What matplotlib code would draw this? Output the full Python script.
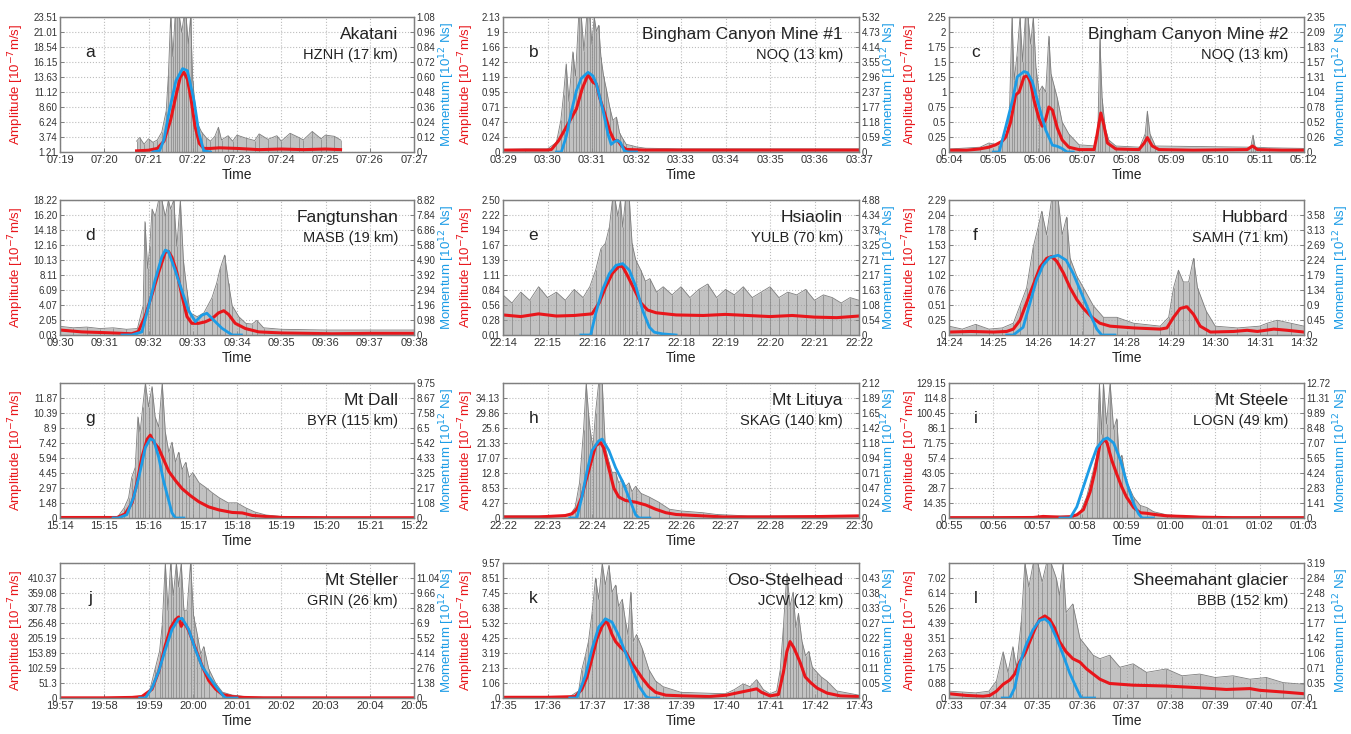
import matplotlib
matplotlib.use("Agg")
import matplotlib.pyplot as plt
import numpy as np
from datetime import datetime, timedelta

plt.rcParams['font.family'] = ['Liberation Sans', 'DejaVu Sans']

# ---------------- panel meta ----------------
letters = list("abcdefghijkl")
names = ["Akatani", "Bingham Canyon Mine #1", "Bingham Canyon Mine #2", "Fangtunshan",
         "Hsiaolin", "Hubbard", "Mt Dall", "Mt Lituya", "Mt Steele", "Mt Steller",
         "Oso-Steelhead", "Sheemahant glacier"]
stations = ["HZNH (17 km)", "NOQ (13 km)", "NOQ (13 km)", "MASB (19 km)", "YULB (70 km)",
            "SAMH (71 km)", "BYR (115 km)", "SKAG (140 km)", "LOGN (49 km)", "GRIN (26 km)",
            "JCW (12 km)", "BBB (152 km)"]
starts = ["07:19", "03:29", "05:04", "09:30", "22:14", "14:24", "15:14", "22:22",
          "00:55", "19:57", "17:35", "07:33"]

# left (amplitude) tick labels; right (momentum) tick labels
left_ticks = [
    ["1.21", "3.74", "6.24", "8.60", "11.12", "13.63", "16.15", "18.54", "21.01", "23.51"],
    ["0", "0.24", "0.47", "0.71", "0.95", "1.19", "1.42", "1.66", "1.9", "2.13"],
    ["0", "0.25", "0.5", "0.75", "1", "1.25", "1.5", "1.75", "2", "2.25"],
    ["0.03", "2.05", "4.07", "6.09", "8.11", "10.13", "12.16", "14.18", "16.20", "18.22"],
    ["0.01", "0.28", "0.56", "0.84", "1.11", "1.39", "1.67", "1.94", "2.22", "2.50"],
    ["0", "0.25", "0.51", "0.76", "1.02", "1.27", "1.53", "1.78", "2.04", "2.29"],
    ["0", "1.48", "2.97", "4.45", "5.94", "7.42", "8.9", "10.39", "11.87"],
    ["0", "4.27", "8.53", "12.8", "17.07", "21.33", "25.6", "29.86", "34.13"],
    ["0", "14.35", "28.7", "43.05", "57.4", "71.75", "86.1", "100.45", "114.8", "129.15"],
    ["0", "51.3", "102.59", "153.89", "205.19", "256.48", "307.78", "359.08", "410.37"],
    ["0", "1.06", "2.13", "3.19", "4.25", "5.32", "6.38", "7.45", "8.51", "9.57"],
    ["0", "0.88", "1.75", "2.63", "3.51", "4.39", "5.26", "6.14", "7.02"],
]
right_ticks = [
    ["0", "0.12", "0.24", "0.36", "0.48", "0.60", "0.72", "0.84", "0.96", "1.08"],
    ["0", "0.59", "1.18", "1.77", "2.37", "2.96", "3.55", "4.14", "4.73", "5.32"],
    ["0", "0.26", "0.52", "0.78", "1.04", "1.31", "1.57", "1.83", "2.09", "2.35"],
    ["0", "0.98", "1.96", "2.94", "3.92", "4.90", "5.88", "6.86", "7.84", "8.82"],
    ["0", "0.54", "1.08", "1.63", "2.17", "2.71", "3.25", "3.79", "4.34", "4.88"],
    ["0", "0.45", "0.9", "1.34", "1.79", "2.24", "2.69", "3.13", "3.58"],
    ["0", "1.08", "2.17", "3.25", "4.33", "5.42", "6.5", "7.58", "8.67", "9.75"],
    ["0", "0.24", "0.47", "0.71", "0.94", "1.18", "1.42", "1.65", "1.89", "2.12"],
    ["0", "1.41", "2.83", "4.24", "5.65", "7.07", "8.48", "9.89", "11.31", "12.72"],
    ["0", "1.38", "2.76", "4.14", "5.52", "6.9", "8.28", "9.66", "11.04"],
    ["0", "0.05", "0.11", "0.16", "0.22", "0.27", "0.33", "0.38", "0.43"],
    ["0", "0.35", "0.71", "1.06", "1.42", "1.77", "2.13", "2.48", "2.84", "3.19"],
]

# ---------------- data (t in minutes after axis start) ----------------
a_red_t = [1.73, 2.0, 2.2, 2.35, 2.5, 2.62, 2.72, 2.8, 2.88, 2.96, 3.05, 3.15, 3.25, 3.4, 3.6, 4.0, 4.5, 5.0, 5.5, 6.0, 6.34]
a_red_v = [1.4, 1.5, 1.8, 3.0, 6.5, 10.5, 13.6, 14.4, 13.2, 10.0, 5.5, 2.6, 1.8, 1.8, 1.9, 1.8, 1.6, 1.7, 1.6, 1.7, 1.6]
a_blue_t = [2.1, 2.25, 2.35, 2.47, 2.62, 2.77, 2.88, 3.03, 3.14, 3.25, 3.4]
a_blue_v = [0, 0.01, 0.1, 0.33, 0.57, 0.667, 0.65, 0.41, 0.15, 0.01, 0]
a_grey_t = [1.73, 1.8, 1.9, 2.0, 2.1, 2.2, 2.3, 2.4, 2.45, 2.5, 2.55, 2.6, 2.65, 2.7, 2.75, 2.8, 2.85, 2.9, 2.95, 3.0, 3.05, 3.1, 3.2, 3.3, 3.4, 3.5, 3.58, 3.65, 3.8, 3.9, 4.0, 4.2, 4.4, 4.5, 4.7, 4.9, 5.0, 5.2, 5.4, 5.5, 5.7, 5.9, 6.0, 6.2, 6.34]
a_grey_v = [3.0, 3.6, 2.5, 3.4, 2.8, 3.2, 4.5, 8, 14, 23.5, 17, 23.5, 23.5, 23.5, 21, 23.5, 23.5, 19, 23.5, 13, 9, 6, 4.5, 3.6, 3.0, 3.8, 5.3, 3.2, 3.9, 3.0, 4.0, 3.5, 3.1, 4.2, 3.3, 3.9, 3.0, 4.3, 3.6, 3.2, 4.6, 3.4, 4.0, 3.8, 3.2]

b_red_t = [0, 0.5, 1.0, 1.09, 1.25, 1.46, 1.65, 1.78, 1.91, 2.02, 2.1, 2.17, 2.28, 2.4, 2.5, 2.58, 2.66, 2.77, 3.2, 4, 5, 6, 7, 8]
b_red_v = [0.03, 0.03, 0.03, 0.04, 0.18, 0.44, 0.68, 1.0, 1.22, 1.1, 1.07, 0.86, 0.62, 0.33, 0.18, 0.18, 0.1, 0.04, 0.03, 0.03, 0.03, 0.03, 0.03, 0.03]
b_blue_t = [1.2, 1.31, 1.42, 1.54, 1.65, 1.76, 1.91, 2.02, 2.1, 2.25, 2.36, 2.43, 2.5, 2.57, 2.64, 2.73, 2.81, 3.0]
b_blue_v = [0, 0.0, 0.6, 1.62, 2.42, 2.9, 3.14, 3.0, 2.68, 1.62, 0.70, 0.30, 0.4, 0.46, 0.37, 0.04, 0, 0]
b_grey_t = [0, 0.5, 1.0, 1.2, 1.3, 1.36, 1.42, 1.48, 1.57, 1.63, 1.7, 1.76, 1.82, 1.88, 1.95, 2.0, 2.05, 2.1, 2.15, 2.2, 2.26, 2.32, 2.4, 2.47, 2.55, 2.62, 2.7, 2.77, 2.9, 3.0, 3.2, 4, 5, 6, 7, 8]
b_grey_v = [0.04, 0.05, 0.05, 0.15, 0.5, 0.9, 1.39, 0.8, 1.58, 1.2, 2.13, 2.13, 1.6, 2.13, 2.13, 1.7, 2.13, 1.9, 2.0, 1.5, 1.2, 1.0, 0.7, 0.5, 0.55, 0.3, 0.2, 0.12, 0.1, 0.08, 0.06, 0.05, 0.05, 0.05, 0.05, 0.05]

c_red_t = [0, 0.4, 0.68, 0.9, 1.05, 1.2, 1.28, 1.39, 1.5, 1.58, 1.69, 1.77, 1.84, 1.92, 2.03, 2.1, 2.18, 2.25, 2.33, 2.44, 2.55, 2.7, 2.93, 3.27, 3.34, 3.42, 3.49, 3.57, 3.76, 4.28, 4.4, 4.47, 4.58, 4.73, 5.5, 6.72, 6.84, 6.95, 7.5, 8]
c_red_v = [0.03, 0.03, 0.05, 0.08, 0.12, 0.18, 0.25, 0.5, 0.95, 1.0, 1.25, 1.27, 1.15, 0.85, 0.55, 0.43, 0.55, 0.75, 0.7, 0.4, 0.2, 0.08, 0.04, 0.04, 0.3, 0.65, 0.45, 0.15, 0.05, 0.04, 0.15, 0.24, 0.1, 0.04, 0.03, 0.04, 0.1, 0.04, 0.03, 0.03]
c_blue_t = [1.0, 1.13, 1.28, 1.43, 1.54, 1.69, 1.77, 1.88, 2.03, 2.18, 2.33, 2.44, 2.55, 2.66, 2.8]
c_blue_v = [0, 0.0, 0.44, 0.90, 1.31, 1.40, 1.38, 1.22, 0.79, 0.38, 0.12, 0.10, 0.06, 0.0, 0.0]
c_grey_t = [0, 0.7, 0.9, 1.1, 1.2, 1.3, 1.36, 1.42, 1.47, 1.53, 1.6, 1.66, 1.72, 1.78, 1.84, 1.9, 1.96, 2.03, 2.1, 2.18, 2.25, 2.3, 2.37, 2.44, 2.55, 2.7, 2.93, 3.3, 3.36, 3.4, 3.45, 3.52, 3.6, 3.76, 4.3, 4.42, 4.47, 4.53, 4.65, 6.8, 6.85, 6.9, 7.2, 8]
c_grey_v = [0.05, 0.08, 0.15, 0.12, 0.2, 0.3, 0.6, 2.25, 1.2, 1.6, 2.25, 1.5, 2.25, 2.25, 1.8, 2.25, 1.4, 1.0, 1.1, 1.0, 1.93, 1.3, 1.1, 0.9, 0.5, 0.3, 0.12, 0.1, 0.5, 1.9, 0.9, 0.4, 0.2, 0.1, 0.08, 0.3, 0.68, 0.3, 0.1, 0.08, 0.28, 0.08, 0.07, 0.06]

d_red_t = [0, 0.49, 1.0, 1.62, 1.77, 1.92, 2.08, 2.23, 2.38, 2.45, 2.53, 2.64, 2.75, 2.87, 2.98, 3.13, 3.28, 3.43, 3.58, 3.7, 3.81, 3.96, 4.19, 4.49, 5.02, 6.15, 7.0, 8]
d_red_v = [0.7, 0.45, 0.35, 0.2, 0.5, 2.5, 5.5, 8.5, 11.2, 11.3, 10.5, 8.5, 5.5, 2.5, 1.6, 1.6, 1.8, 2.2, 3.0, 3.3, 2.8, 1.6, 0.9, 0.45, 0.3, 0.2, 0.25, 0.25]
d_blue_t = [1.4, 1.62, 1.85, 2.0, 2.15, 2.3, 2.38, 2.45, 2.6, 2.75, 2.9, 3.06, 3.21, 3.32, 3.47, 3.66, 3.89, 4.1]
d_blue_v = [0, 0, 0.2, 1.85, 3.6, 5.1, 5.55, 5.45, 4.25, 2.94, 1.63, 0.87, 1.3, 1.42, 0.98, 0.44, 0, 0]
d_grey_t = [0, 0.3, 0.6, 0.9, 1.2, 1.5, 1.75, 1.88, 1.92, 1.98, 2.03, 2.08, 2.15, 2.23, 2.3, 2.38, 2.45, 2.5, 2.57, 2.64, 2.72, 2.79, 2.87, 2.94, 3.1, 3.25, 3.43, 3.54, 3.62, 3.72, 3.81, 3.89, 4.04, 4.2, 4.34, 4.45, 4.6, 5.0, 6.0, 7.0, 8]
d_grey_v = [1.2, 1.0, 1.1, 0.9, 1.0, 0.8, 0.9, 4, 15.3, 9, 12, 17, 16, 18.22, 18.22, 16, 18.22, 17, 18.22, 12, 18.22, 10, 6, 3, 2.5, 3, 5, 7, 9, 10.8, 7, 4, 2.5, 1.6, 1.5, 2.0, 1.0, 0.8, 0.7, 0.7, 0.7]

e_red_t = [0, 0.4, 0.8, 1.2, 1.6, 2.0, 2.16, 2.31, 2.46, 2.61, 2.69, 2.8, 2.95, 3.1, 3.25, 3.44, 3.89, 4.5, 5.0, 5.5, 6.0, 6.5, 7.0, 7.5, 8]
e_red_v = [0.38, 0.35, 0.40, 0.36, 0.37, 0.4, 0.6, 0.9, 1.15, 1.28, 1.27, 1.1, 0.85, 0.6, 0.47, 0.42, 0.38, 0.37, 0.39, 0.37, 0.35, 0.37, 0.34, 0.33, 0.36]
e_blue_t = [1.75, 1.97, 2.08, 2.23, 2.39, 2.54, 2.69, 2.84, 2.99, 3.14, 3.29, 3.4, 3.59, 3.89]
e_blue_v = [0, 0, 0.76, 1.61, 2.22, 2.52, 2.58, 2.34, 1.73, 0.88, 0.28, 0.1, 0.04, 0]
e_grey_t = [0, 0.2, 0.4, 0.6, 0.8, 1.0, 1.2, 1.4, 1.6, 1.8, 1.95, 2.08, 2.2, 2.3, 2.39, 2.46, 2.52, 2.58, 2.64, 2.69, 2.75, 2.84, 2.9, 2.98, 3.1, 3.2, 3.3, 3.45, 3.6, 3.8, 4.0, 4.2, 4.4, 4.6, 4.8, 5.0, 5.2, 5.4, 5.6, 5.8, 6.0, 6.2, 6.4, 6.6, 6.8, 7.0, 7.2, 7.4, 7.6, 7.8, 8.0]
e_grey_v = [0.75, 0.6, 0.8, 0.65, 0.9, 0.7, 0.8, 0.65, 0.85, 0.7, 0.9, 1.2, 1.6, 1.7, 2.0, 2.5, 2.5, 2.2, 2.5, 2.0, 2.5, 2.5, 1.7, 1.4, 1.2, 1.0, 1.05, 0.8, 0.9, 0.75, 0.9, 0.7, 0.85, 0.95, 0.7, 0.85, 0.75, 0.9, 0.7, 0.8, 0.9, 0.7, 0.8, 0.75, 0.85, 0.65, 0.75, 0.7, 0.6, 0.7, 0.65]

f_red_t = [0, 0.5, 1.0, 1.3, 1.45, 1.6, 1.75, 1.9, 2.05, 2.2, 2.31, 2.43, 2.58, 2.73, 2.88, 3.03, 3.22, 3.4, 3.63, 4.16, 4.76, 4.91, 5.06, 5.21, 5.36, 5.51, 5.66, 5.89, 6.42, 6.72, 6.95, 7.32, 7.62, 8]
f_red_v = [0.05, 0.06, 0.05, 0.06, 0.1, 0.25, 0.55, 0.85, 1.15, 1.3, 1.33, 1.25, 1.05, 0.8, 0.6, 0.45, 0.3, 0.2, 0.15, 0.12, 0.1, 0.12, 0.3, 0.45, 0.48, 0.35, 0.15, 0.05, 0.06, 0.08, 0.06, 0.1, 0.08, 0.05]
f_blue_t = [1.3, 1.45, 1.67, 1.82, 1.97, 2.12, 2.27, 2.46, 2.64, 2.8, 2.99, 3.18, 3.33, 3.44, 3.74]
f_blue_v = [0, 0, 0.23, 0.93, 1.63, 2.08, 2.31, 2.38, 2.23, 1.83, 1.23, 0.63, 0.18, 0, 0]
f_grey_t = [0, 0.3, 0.6, 0.9, 1.2, 1.45, 1.6, 1.75, 1.9, 2.0, 2.09, 2.2, 2.31, 2.38, 2.46, 2.55, 2.65, 2.73, 2.88, 3.03, 3.25, 3.48, 3.78, 4.16, 4.76, 4.95, 5.06, 5.17, 5.28, 5.4, 5.51, 5.6, 5.8, 6.0, 6.5, 7.0, 7.17, 7.4, 7.7, 8]
f_grey_v = [0.15, 0.1, 0.18, 0.1, 0.12, 0.2, 0.5, 0.8, 1.5, 1.8, 2.1, 1.7, 2.29, 2.29, 2.29, 1.7, 2.0, 1.3, 1.0, 0.8, 0.5, 0.3, 0.3, 0.2, 0.15, 0.3, 0.8, 1.1, 0.9, 0.9, 1.3, 0.8, 0.4, 0.15, 0.12, 0.15, 0.2, 0.25, 0.2, 0.15]

g_red_t = [0, 1.0, 1.29, 1.47, 1.63, 1.74, 1.85, 1.97, 2.04, 2.12, 2.23, 2.34, 2.46, 2.61, 2.76, 2.95, 3.14, 3.36, 3.59, 3.89, 4.12, 4.35, 4.65, 5.03, 6.0, 8]
g_red_v = [0.05, 0.05, 0.05, 0.4, 1.5, 3.5, 6.0, 7.8, 8.2, 7.5, 6.9, 5.8, 4.6, 3.7, 2.9, 2.2, 1.6, 1.1, 0.8, 0.55, 0.5, 0.25, 0.15, 0.05, 0.03, 0.03]
g_blue_t = [1.2, 1.32, 1.51, 1.66, 1.78, 1.93, 2.04, 2.12, 2.23, 2.34, 2.46, 2.53, 2.61, 2.8]
g_blue_v = [0, 0, 0.24, 1.46, 2.93, 5.1, 5.73, 5.6, 4.39, 2.68, 1.22, 0.37, 0, 0]
g_grey_t = [0, 1.0, 1.3, 1.45, 1.55, 1.62, 1.7, 1.76, 1.81, 1.87, 1.93, 2.0, 2.08, 2.15, 2.23, 2.31, 2.38, 2.46, 2.53, 2.61, 2.68, 2.76, 2.84, 2.92, 3.0, 3.14, 3.3, 3.44, 3.6, 3.8, 4.0, 4.2, 4.4, 4.65, 5.0, 6.0, 8.0]
g_grey_v = [0.05, 0.05, 0.1, 1.0, 2.0, 4.0, 5.0, 10, 8.5, 11, 13.36, 11, 13.0, 10, 9, 13.36, 8.5, 6.5, 7.5, 5.5, 6.5, 4.8, 5.5, 4.0, 4.5, 3.5, 3.0, 2.5, 2.0, 1.5, 1.5, 1.0, 0.6, 0.3, 0.15, 0.08, 0.05]

h_red_t = [0, 0.8, 1.4, 1.55, 1.66, 1.77, 1.85, 1.96, 2.08, 2.19, 2.26, 2.38, 2.49, 2.6, 2.75, 2.98, 3.21, 3.43, 3.66, 3.89, 4.19, 4.49, 4.94, 6.0, 7.0, 8.0]
h_red_v = [0.3, 0.3, 0.7, 1.2, 2.5, 6, 10, 15, 20.5, 21.5, 20, 14, 8.5, 6, 5, 4.5, 3.7, 2.5, 1.5, 1.0, 0.8, 0.6, 0.3, 0.3, 0.4, 0.6]
h_blue_t = [1.5, 1.66, 1.77, 1.89, 2.0, 2.15, 2.23, 2.38, 2.53, 2.68, 2.83, 2.98, 3.06, 3.3]
h_blue_v = [0, 0, 0.32, 0.74, 1.06, 1.21, 1.24, 1.06, 0.79, 0.58, 0.32, 0.05, 0, 0]
h_grey_t = [0, 1.0, 1.5, 1.62, 1.72, 1.81, 1.87, 1.92, 1.96, 2.02, 2.08, 2.15, 2.23, 2.3, 2.38, 2.45, 2.53, 2.6, 2.68, 2.76, 2.83, 2.9, 2.98, 3.1, 3.28, 3.5, 3.74, 4.0, 4.49, 4.8, 5.5, 6.5, 8.0]
h_grey_v = [0.6, 0.6, 0.8, 3, 10, 25, 38.4, 30, 25, 20, 30, 38.4, 38.4, 20, 16, 13, 13, 10, 11, 9, 10, 7.5, 9, 7, 6, 4.5, 2.5, 2.0, 1.5, 1.0, 0.6, 0.6, 0.5]

i_red_t = [0, 1.0, 1.9, 2.12, 2.5, 2.73, 2.88, 3.03, 3.18, 3.29, 3.4, 3.5, 3.56, 3.67, 3.78, 3.89, 4.0, 4.16, 4.31, 4.46, 4.61, 4.91, 5.29, 5.66, 6.4, 8.0]
i_red_v = [0.3, 0.3, 0.5, 1.5, 0.8, 1.2, 3, 8, 25, 45, 70, 75, 72, 55, 42, 30, 20, 10, 5, 4.5, 3.5, 2, 1.5, 0.8, 0.3, 0.3]
i_blue_t = [2.5, 2.73, 2.88, 3.03, 3.18, 3.33, 3.48, 3.57, 3.71, 3.86, 4.01, 4.16, 4.27, 4.35, 4.6]
i_blue_v = [0, 0, 1.05, 2.95, 4.85, 6.6, 7.39, 7.55, 7.07, 5.49, 3.27, 1.36, 0.41, 0, 0]
i_grey_t = [0, 1.0, 2.0, 2.8, 2.95, 3.1, 3.22, 3.33, 3.39, 3.44, 3.48, 3.55, 3.63, 3.71, 3.78, 3.84, 3.89, 4.0, 4.16, 4.31, 4.46, 4.61, 4.91, 5.29, 6.0, 8.0]
i_grey_v = [1, 1, 1.5, 2, 5, 20, 40, 60, 129.15, 80, 129.15, 90, 129.15, 85, 95, 55, 60, 35, 20, 12, 10, 6, 3, 2, 1, 1]

j_red_t = [0, 1.0, 1.63, 1.85, 2.08, 2.23, 2.38, 2.5, 2.61, 2.68, 2.74, 2.78, 2.84, 2.91, 3.06, 3.21, 3.36, 3.52, 3.67, 3.89, 4.12, 4.6, 8.0]
j_red_v = [0.5, 0.5, 2, 5, 30, 90, 180, 240, 268, 277, 245, 258, 250, 230, 170, 110, 60, 30, 12, 5, 2, 0.5, 0.5]
j_blue_t = [1.8, 1.93, 2.08, 2.23, 2.38, 2.53, 2.68, 2.76, 2.91, 3.06, 3.21, 3.36, 3.52, 3.67, 3.74, 4.0]
j_blue_v = [0, 0, 0.92, 2.45, 4.45, 6.29, 7.27, 7.33, 6.29, 4.45, 2.91, 1.99, 1.07, 0.31, 0, 0]
j_grey_t = [0, 1.5, 2.0, 2.15, 2.25, 2.31, 2.38, 2.44, 2.5, 2.56, 2.63, 2.68, 2.74, 2.8, 2.87, 2.95, 3.02, 3.1, 3.18, 3.25, 3.36, 3.52, 3.67, 3.89, 4.3, 8.0]
j_grey_v = [1, 1, 10, 100, 160, 250, 461.67, 300, 461.67, 350, 461.67, 380, 461.67, 300, 300, 461.67, 280, 220, 150, 176, 100, 50, 20, 10, 3, 1]

k_red_t = [0, 1.0, 1.62, 1.77, 1.89, 2.0, 2.11, 2.23, 2.32, 2.38, 2.45, 2.53, 2.64, 2.75, 2.87, 2.98, 3.13, 3.28, 3.43, 3.66, 4.04, 4.64, 5.02, 5.32, 5.55, 5.7, 5.81, 6.0, 6.19, 6.3, 6.38, 6.45, 6.53, 6.6, 6.68, 6.79, 6.91, 7.06, 7.28, 7.58, 8.0]
k_red_v = [0.05, 0.05, 0.1, 0.6, 1.5, 2.8, 4.2, 5.1, 5.5, 5.1, 4.5, 4.0, 3.6, 3.3, 2.6, 2.1, 1.4, 0.8, 0.4, 0.2, 0.15, 0.1, 0.2, 0.4, 0.55, 0.65, 0.4, 0.15, 0.25, 1.8, 3.3, 4.0, 3.6, 3.1, 2.5, 1.5, 1.1, 0.7, 0.35, 0.15, 0.1]
k_blue_t = [1.5, 1.66, 1.85, 2.0, 2.15, 2.3, 2.45, 2.6, 2.75, 2.91, 3.06, 3.21, 3.28, 3.5]
k_blue_v = [0, 0, 0.079, 0.175, 0.254, 0.284, 0.272, 0.224, 0.163, 0.103, 0.042, 0.006, 0, 0]
k_grey_t = [0, 1.5, 1.7, 1.77, 1.85, 1.92, 2.0, 2.08, 2.15, 2.23, 2.3, 2.38, 2.45, 2.53, 2.6, 2.68, 2.75, 2.81, 2.87, 2.93, 3.0, 3.13, 3.28, 3.43, 3.6, 4.0, 5.0, 5.2, 5.4, 5.55, 5.7, 5.85, 6.0, 6.15, 6.23, 6.3, 6.38, 6.45, 6.52, 6.58, 6.64, 6.72, 6.8, 6.87, 6.95, 7.06, 7.15, 7.28, 7.5, 8.0]
k_grey_v = [0.1, 0.1, 0.5, 2, 3, 4, 6, 8.5, 7, 9.57, 8, 9.4, 7.5, 8, 6.5, 7, 5.5, 4.5, 7.5, 4.0, 4.5, 3.5, 2, 1.2, 0.8, 0.4, 0.3, 0.6, 1.0, 0.8, 1.3, 0.6, 0.3, 0.5, 2, 5, 8.85, 6.5, 7.5, 5.0, 6.0, 4.0, 3.0, 3.3, 2.2, 1.8, 1.5, 1.2, 0.5, 0.2]

l_red_t = [0, 0.39, 0.77, 0.92, 1.07, 1.22, 1.37, 1.48, 1.59, 1.71, 1.82, 1.93, 2.04, 2.16, 2.27, 2.38, 2.49, 2.64, 2.79, 2.95, 3.1, 3.25, 3.4, 3.62, 4.15, 4.9, 5.65, 6.25, 6.78, 7.0, 7.53, 8.0]
l_red_v = [0.25, 0.15, 0.1, 0.15, 0.4, 0.8, 1.05, 1.4, 2.1, 2.6, 3.3, 4.0, 4.6, 4.8, 4.6, 4.1, 3.3, 2.7, 2.3, 2.1, 1.7, 1.4, 1.1, 0.85, 0.75, 0.7, 0.6, 0.5, 0.55, 0.45, 0.35, 0.25]
l_blue_t = [1.2, 1.37, 1.48, 1.59, 1.74, 1.89, 2.04, 2.16, 2.27, 2.42, 2.57, 2.72, 2.87, 2.98, 3.28]
l_blue_v = [0, 0, 0.24, 0.79, 1.26, 1.61, 1.83, 1.87, 1.77, 1.42, 1.02, 0.59, 0.24, 0, 0]
l_grey_t = [0, 0.3, 0.6, 0.9, 1.07, 1.22, 1.33, 1.44, 1.52, 1.63, 1.71, 1.8, 1.9, 2.0, 2.1, 2.2, 2.3, 2.42, 2.49, 2.57, 2.64, 2.79, 2.95, 3.1, 3.25, 3.4, 3.62, 3.85, 4.15, 4.45, 4.9, 5.25, 5.65, 6.0, 6.4, 6.78, 7.15, 7.53, 8.0]
l_grey_v = [0.4, 0.35, 0.3, 0.4, 1.0, 2.7, 1.5, 3.0, 1.8, 4.5, 7.9, 6.5, 7.9, 7.9, 6.8, 7.9, 7.9, 7.0, 6.0, 7.9, 5.0, 5.5, 3.5, 3.0, 2.5, 2.3, 2.5, 1.8, 2.0, 1.5, 1.7, 1.3, 1.4, 1.2, 1.3, 1.1, 1.2, 0.9, 0.8]

series = [
    (a_grey_t, a_grey_v, a_red_t, a_red_v, a_blue_t, a_blue_v),
    (b_grey_t, b_grey_v, b_red_t, b_red_v, b_blue_t, b_blue_v),
    (c_grey_t, c_grey_v, c_red_t, c_red_v, c_blue_t, c_blue_v),
    (d_grey_t, d_grey_v, d_red_t, d_red_v, d_blue_t, d_blue_v),
    (e_grey_t, e_grey_v, e_red_t, e_red_v, e_blue_t, e_blue_v),
    (f_grey_t, f_grey_v, f_red_t, f_red_v, f_blue_t, f_blue_v),
    (g_grey_t, g_grey_v, g_red_t, g_red_v, g_blue_t, g_blue_v),
    (h_grey_t, h_grey_v, h_red_t, h_red_v, h_blue_t, h_blue_v),
    (i_grey_t, i_grey_v, i_red_t, i_red_v, i_blue_t, i_blue_v),
    (j_grey_t, j_grey_v, j_red_t, j_red_v, j_blue_t, j_blue_v),
    (k_grey_t, k_grey_v, k_red_t, k_red_v, k_blue_t, k_blue_v),
    (l_grey_t, l_grey_v, l_red_t, l_red_v, l_blue_t, l_blue_v),
]

# ---------------- styling ----------------
RED = '#e8161b'
BLUE = '#1c9ce6'
GREY = '#9a9a9a'
SPINE = '#7f7f7f'
TXT = '#333333'

W, H = 1351, 734
col_left = [60, 503, 949]
col_w = [354, 356, 355]
row_top = [17, 200, 383, 563]
row_h = 135
# label anchors in axes fraction
left_label_x = [-0.096, -0.076, -0.0817]
right_label_x = [1.065, 1.056, 1.076]

fig = plt.figure(figsize=(W / 100, H / 100), dpi=100)


def tick_positions(labels):
    vals = [float(s) for s in labels]
    lo = vals[0]
    step = (vals[-1] - vals[0]) / (len(vals) - 1)
    pos = [lo + k * step for k in range(10)]
    labs = list(labels) + [""] * (10 - len(labels))
    return pos, labs


for idx in range(12):
    r, c = divmod(idx, 3)
    left = col_left[c] / W
    bottom = 1 - (row_top[r] + row_h) / H
    ax = fig.add_axes([left, bottom, col_w[c] / W, row_h / H])
    ax2 = ax.twinx()

    lpos, llab = tick_positions(left_ticks[idx])
    rpos, rlab = tick_positions(right_ticks[idx])
    ax.set_ylim(lpos[0], lpos[-1])
    ax2.set_ylim(rpos[0], rpos[-1])
    ax.set_yticks(lpos)
    ax.set_yticklabels(llab)
    ax2.set_yticks(rpos)
    ax2.set_yticklabels(rlab)

    gt, gv, rt, rv, bt, bv = series[idx]
    ax.fill_between(gt, lpos[0], gv, color=GREY, alpha=0.6, lw=0)
    ax.vlines(gt, lpos[0], gv, color='#858585', lw=0.5)
    ax.plot(gt, gv, color='#7d7d7d', lw=0.6)
    ax.plot(rt, rv, color=RED, lw=2.2, solid_joinstyle='round')
    ax2.plot(bt, bv, color=BLUE, lw=2.0, solid_joinstyle='round')

    t0 = datetime.strptime(starts[idx], "%H:%M")
    xt = list(range(9))
    ax.set_xlim(0, 8)
    ax.set_xticks(xt)
    ax.set_xticklabels([(t0 + timedelta(minutes=m)).strftime("%H:%M") for m in xt])
    ax.grid(True, linestyle=':', color='#bdbdbd', lw=0.8)
    ax.set_axisbelow(True)

    for a_ in (ax, ax2):
        for sp in a_.spines.values():
            sp.set_color(SPINE)
            sp.set_linewidth(0.9)
        a_.tick_params(direction='in', length=3, width=0.7, colors=SPINE,
                       labelcolor=TXT, labelsize=8, pad=2)
        a_.tick_params(axis='y', labelsize=7)

    ax.set_xlabel("Time", fontsize=10, color='#222222', labelpad=2)
    ax.set_ylabel("Amplitude [10$^{-7}$m/s]", fontsize=9.5, color=RED)
    ax2.set_ylabel("Momentum [10$^{12}$ Ns]", fontsize=9.5, color=BLUE)
    ax.yaxis.set_label_coords(left_label_x[c], 0.5)
    ax2.yaxis.set_label_coords(right_label_x[c], 0.5)

    ax.text(0.955, 0.87, names[idx], transform=ax.transAxes, ha='right', va='center',
            fontsize=12.5, color='#222222')
    ax.text(0.955, 0.72, stations[idx], transform=ax.transAxes, ha='right', va='center',
            fontsize=10.5, color='#222222')
    ax.text(0.085 if c < 2 else 0.075, 0.74, letters[idx], transform=ax.transAxes,
            ha='center', va='center', fontsize=12.5, color='#222222')

fig.savefig("out.png", dpi=100)
